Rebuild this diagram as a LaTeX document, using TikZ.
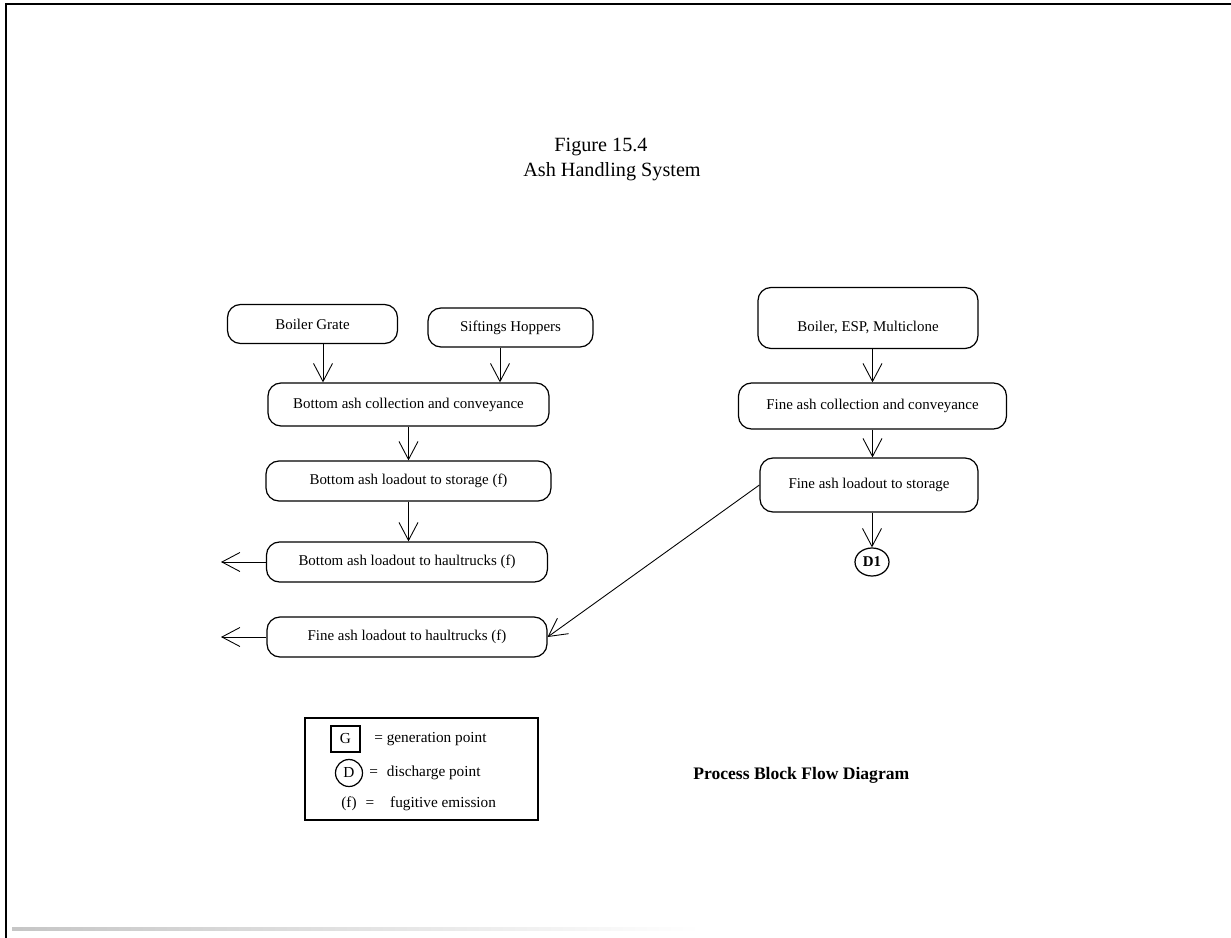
\documentclass[tikz,border=0pt]{standalone}
\usepackage{fontspec}
\setmainfont{Liberation Serif}
\usetikzlibrary{arrows.meta,shapes.geometric}

\begin{document}
\begin{tikzpicture}[x=0.2mm, y=-0.2mm,
    block/.style={rectangle, draw, rounded corners=2.6mm, line width=0.7pt, align=center, inner sep=0pt, font=\fontsize{8.5}{10}\selectfont},
    arrow/.style={-{Straight Barb[length=3.6mm,width=3.8mm]}, line width=0.5pt},
    legtext/.style={anchor=west, inner sep=0pt, font=\fontsize{8.7}{10}\selectfont},
    title/.style={inner sep=0pt, font=\fontsize{11.5}{13}\selectfont},
]
\useasboundingbox (0,0) rectangle (1231,938);
\draw[line width=1.4pt] (6,938) -- (6,4) -- (1231,4);
\shade[left color=gray!45, right color=white] (12,927) rectangle (700,930);

\node[title] (fig) at (601,147) {Figure 15.4};
\node[title] (ttl) at (612,172) {Ash Handling System};

\node[block, minimum width=34mm, minimum height=7.8mm] (grate) at (312.5,324) {Boiler Grate};
\node[block, minimum width=33mm, minimum height=7.8mm] (sift) at (510.5,327.5) {Siftings Hoppers};
\node[block, minimum width=56.2mm, minimum height=8.6mm] (botcoll) at (408.5,404.5) {Bottom ash collection and conveyance};
\node[block, minimum width=57mm, minimum height=8mm] (botstore) at (408.5,481) {Bottom ash loadout to storage (f)};
\node[block, minimum width=56.2mm, minimum height=8mm] (bothaul) at (407,562) {Bottom ash loadout to haultrucks (f)};
\node[block, minimum width=56mm, minimum height=8mm] (finehaul) at (407,637) {Fine ash loadout to haultrucks (f)};

\node[block, minimum width=44mm, minimum height=12.2mm, text height=17.4pt, text depth=2pt] (boiler) at (868,318) {Boiler, ESP, Multiclone};
\node[block, minimum width=53.6mm, minimum height=9.2mm] (finecoll) at (872.5,406) {Fine ash collection and conveyance};
\node[block, minimum width=43.6mm, minimum height=10.8mm] (finestore) at (869,485) {Fine ash loadout to storage};
\node[ellipse, draw, line width=0.7pt, minimum width=6.8mm, minimum height=5.6mm, inner sep=0pt, font=\bfseries\fontsize{8.5}{10}\selectfont] (d1) at (872,562) {D1};

\coordinate (outA) at (221,562);
\coordinate (outB) at (221,637);

\draw[arrow] ([xshift=2.1mm]grate.south) -- ([xshift=2.1mm]grate.south |- botcoll.north);
\draw[arrow] ([xshift=-2.1mm]sift.south) -- ([xshift=-2.1mm]sift.south |- botcoll.north);
\draw[arrow] (botcoll.south) -- (botcoll.south |- botstore.north);
\draw[arrow] (botstore.south) -- (botstore.south |- bothaul.north);
\draw[arrow] (bothaul.west) -- (outA);
\draw[arrow] (finehaul.west) -- (outB);
\draw[arrow] (boiler.south -| finecoll.north) -- (finecoll.north);
\draw[arrow] (finecoll.south) -- (finecoll.south |- finestore.north);
\draw[arrow] (finestore.south -| d1.north) -- (d1.north);
\draw[arrow] (finestore.west) -- (finehaul.east);

\node[draw, line width=1.1pt, minimum width=46.6mm, minimum height=20.4mm, inner sep=0pt] (legend) at (421.5,769) {};
\node[draw, line width=0.7pt, minimum width=5.8mm, minimum height=5.2mm, inner sep=0pt, font=\fontsize{8.7}{10}\selectfont] (gsym) at (345.5,739) {G};
\node[legtext] (gtext) at (374,739) {= generation point};
\node[circle, draw, line width=0.7pt, minimum size=5.4mm, inner sep=0pt, font=\fontsize{8.7}{10}\selectfont] (dsym) at (349,773) {D};
\node[legtext] (dtext) at (369,773) {=\hspace{1.8mm}discharge point};
\node[legtext] (ftext) at (341,804) {(f)\hspace{1.8mm}=\hspace{3.2mm}fugitive emission};

\node[anchor=west, inner sep=0pt, font=\bfseries\fontsize{10}{12}\selectfont] (pbfd) at (693,775) {Process Block Flow Diagram};
\end{tikzpicture}
\end{document}
